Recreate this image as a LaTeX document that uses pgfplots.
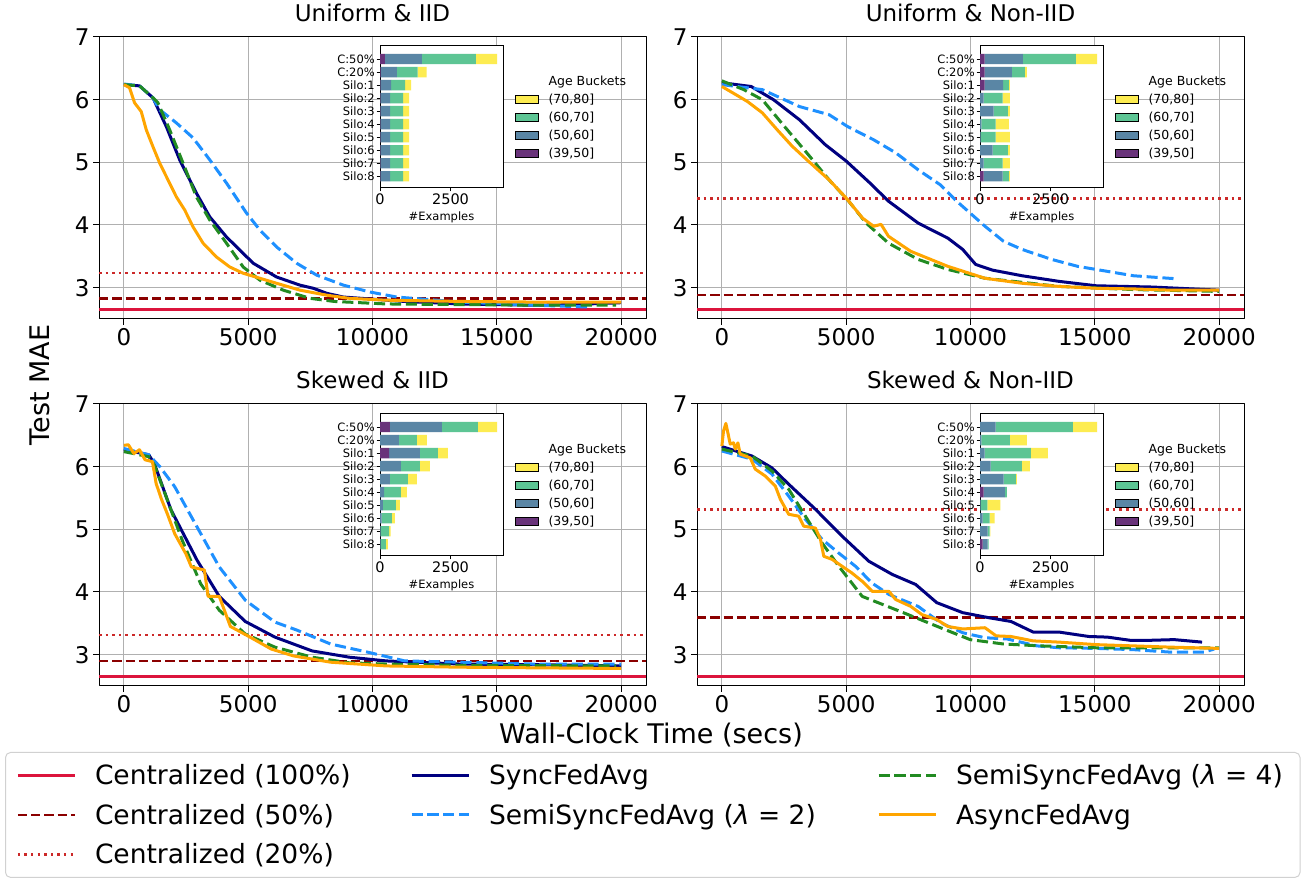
\documentclass[border=0pt]{standalone}
\usepackage{fontspec}
\setmainfont{DejaVu Sans}
\usepackage{pgfplots}
\pgfplotsset{compat=1.18}

\definecolor{c100}{HTML}{DC143C}
\definecolor{c50}{HTML}{8B0000}
\definecolor{c20}{HTML}{CC2929}
\definecolor{cnavy}{HTML}{000080}
\definecolor{cdodger}{HTML}{1E90FF}
\definecolor{cforest}{HTML}{228B22}
\definecolor{corange}{HTML}{FFA500}
\definecolor{gridgray}{HTML}{B0B0B0}
\definecolor{vpur}{HTML}{69337A}
\definecolor{vblu}{HTML}{5A86A5}
\definecolor{vgrn}{HTML}{5DC594}
\definecolor{vyel}{HTML}{FDEC51}

\newcommand\ticksize{\fontsize{23}{27}\selectfont}
\newcommand\titlesize{\fontsize{23}{27}\selectfont}
\newcommand\labsize{\fontsize{27}{31}\selectfont}
\newcommand\legsize{\fontsize{26.5}{30}\selectfont}
\newcommand\insy{\fontsize{11.5}{13}\selectfont}
\newcommand\insx{\fontsize{14.5}{16}\selectfont}
\newcommand\insleg{\fontsize{12.5}{14}\selectfont}

\pgfplotsset{
  cent100/.style={color=c100, line width=2.5pt},
  cent50/.style={color=c50, line width=2.5pt, dash pattern=on 9.25pt off 4pt},
  cent20/.style={color=c20, line width=2.5pt, dash pattern=on 2.5pt off 4.1pt},
  sync/.style={color=cnavy, line width=3pt},
  semi2/.style={color=cdodger, line width=3pt, dash pattern=on 11.1pt off 4.8pt},
  semi4/.style={color=cforest, line width=3pt, dash pattern=on 11.1pt off 4.8pt},
  async/.style={color=corange, line width=3pt},
  mainax/.style={
    scale only axis, width=547pt, height=282pt, anchor=south west,
    xmin=-1000, xmax=21000, ymin=2.5, ymax=7,
    xtick={0,5000,10000,15000,20000}, ytick={3,4,5,6,7},
    scaled x ticks=false,
    /pgf/number format/1000 sep={},
    /pgf/number format/assume math mode=true,
    tick label style={font=\ticksize},
    title style={font=\titlesize, at={(0.5,1)}, anchor=base, yshift=9pt},
    grid=major, grid style={line width=1pt, draw=gridgray},
    axis line style={line width=1pt},
    tick align=outside, xtick pos=left, ytick pos=left,
    major tick length=6pt, every tick/.style={black, line width=1pt},
    line join=round,
  },
  inset/.style={
    scale only axis, width=123pt, height=142pt, anchor=south west,
    xbar stacked, bar width=0.8,
    xmin=0, xmax=4360, ymin=-1, ymax=9.9, y dir=reverse,
    ytick={0,1,2,3,4,5,6,7,8,9},
    yticklabels={C:50\%,C:20\%,Silo:1,Silo:2,Silo:3,Silo:4,Silo:5,Silo:6,Silo:7,Silo:8},
    xtick={0,2500},
    /pgf/number format/1000 sep={},
    /pgf/number format/assume math mode=true,
    yticklabel style={font=\insy, inner sep=1.5pt},
    xticklabel style={font=\insx, inner sep=2pt},
    xlabel={\#Examples}, xlabel style={font=\insy, inner sep=1pt, yshift=-4pt},
    axis background/.style={fill=white},
    axis line style={line width=1pt},
    tick align=outside, xtick pos=left, ytick pos=left,
    major tick length=3.5pt, every tick/.style={black, line width=0.8pt},
    legend style={at={(1.0976,0.79)}, anchor=north west, draw=none, fill=none,
      font=\insleg, row sep=7pt, inner sep=0pt, nodes={inner sep=0pt}},
    legend cell align=left,
    legend image code/.code={\fill[##1] (0pt,-4pt) rectangle (23pt,4pt); \path (0pt,0pt) (33pt,0pt);},
  },
}
\newcommand\ageleg{%
  \addlegendimage{empty legend}\addlegendentry{\rule[-3pt]{0pt}{12.5pt}Age Buckets}
  \addlegendimage{fill=vyel}\addlegendentry{\rule[-3pt]{0pt}{12.5pt}(70,80]}
  \addlegendimage{fill=vgrn}\addlegendentry{\rule[-3pt]{0pt}{12.5pt}(60,70]}
  \addlegendimage{fill=vblu}\addlegendentry{\rule[-3pt]{0pt}{12.5pt}(50,60]}
  \addlegendimage{fill=vpur}\addlegendentry{\rule[-3pt]{0pt}{12.5pt}(39,50]}
}

\begin{document}
\begin{tikzpicture}[x=1pt,y=1pt]

% ---------------- Uniform & IID
\begin{axis}[mainax, at={(99pt,559pt)}, title={Uniform \& IID}]
\addplot[cent100] coordinates {(-1000,2.65)(21000,2.65)};
\addplot[cent50] coordinates {(-1000,2.83)(21000,2.83)};
\addplot[cent20] coordinates {(-1000,3.23)(21000,3.23)};
\addplot[sync] coordinates {(0,6.24)(632,6.22)(1169,6.03)(1707,5.57)(2244,5.04)(2916,4.51)(3454,4.13)(4126,3.81)(5201,3.39)(6142,3.17)(7083,3.04)(7620,2.99)(8158,2.91)(8830,2.85)(11299,2.78)(13537,2.74)(16522,2.72)(18000,2.73)(20000,2.76)};
\addplot[semi2] coordinates {(0,6.25)(632,6.22)(1169,6.03)(1438,5.84)(2110,5.63)(2782,5.39)(3454,5.04)(4126,4.67)(4933,4.19)(5470,3.92)(6142,3.65)(6948,3.39)(7755,3.20)(8830,3.04)(9905,2.93)(10980,2.85)(13537,2.77)(16522,2.72)(18761,2.69)};
\addplot[semi4] coordinates {(0,6.24)(632,6.22)(1169,6.03)(1371,5.95)(1841,5.52)(2379,4.99)(2916,4.45)(3454,4.08)(4126,3.71)(4798,3.33)(5470,3.12)(6411,2.96)(7486,2.83)(8463,2.78)(10552,2.74)(13537,2.73)(16522,2.72)(19800,2.72)};
\addplot[async] coordinates {(0,6.24)(228,6.19)(430,5.95)(699,5.81)(900,5.52)(1169,5.25)(1438,4.99)(1774,4.72)(2110,4.45)(2446,4.24)(2782,3.97)(3185,3.71)(3723,3.49)(4260,3.33)(4798,3.23)(5470,3.15)(6142,3.07)(7083,2.96)(8158,2.88)(9060,2.83)(10552,2.80)(13537,2.78)(16522,2.77)(20000,2.77)};
\end{axis}

% ---------------- Uniform & Non-IID
\begin{axis}[mainax, at={(697pt,559pt)}, title={Uniform \& Non-IID}]
\addplot[cent100] coordinates {(-1000,2.65)(21000,2.65)};
\addplot[cent50] coordinates {(-1000,2.88)(21000,2.88)};
\addplot[cent20] coordinates {(-1000,4.42)(21000,4.42)};
\addplot[sync] coordinates {(0,6.27)(1179,6.21)(2075,6.0)(3119,5.68)(4164,5.28)(5000,5.02)(5955,4.67)(6701,4.38)(7896,4.03)(9090,3.79)(9687,3.61)(10209,3.37)(10881,3.28)(12075,3.19)(13567,3.10)(15060,3.03)(17313,3.01)(20000,2.96)};
\addplot[semi2] coordinates {(0,6.24)(1627,6.16)(3119,5.89)(4313,5.76)(5060,5.57)(6104,5.36)(7000,5.15)(7896,4.88)(8791,4.64)(9388,4.40)(9985,4.19)(10582,3.98)(11328,3.74)(12075,3.61)(13269,3.45)(14313,3.34)(15060,3.29)(16552,3.19)(18343,3.14)};
\addplot[semi4] coordinates {(0,6.30)(881,6.16)(1627,6.0)(2522,5.57)(3418,5.15)(4313,4.72)(5060,4.40)(5806,4.03)(6701,3.71)(7896,3.45)(9090,3.29)(10582,3.15)(13567,3.02)(16552,2.97)(20000,2.94)};
\addplot[async] coordinates {(0,6.21)(433,6.11)(1030,5.97)(1627,5.79)(2224,5.52)(2821,5.26)(3418,5.04)(4313,4.72)(5000,4.43)(5657,4.11)(6104,3.98)(6403,4.01)(6701,3.82)(7597,3.58)(9090,3.34)(10582,3.15)(12075,3.07)(13567,3.02)(15060,2.99)(16552,2.98)(18045,2.96)(20000,2.96)};
\end{axis}

% ---------------- Skewed & IID
\begin{axis}[mainax, at={(99pt,192pt)}, title={Skewed \& IID}]
\addplot[cent100] coordinates {(-1000,2.65)(21000,2.65)};
\addplot[cent50] coordinates {(-1000,2.90)(21000,2.90)};
\addplot[cent20] coordinates {(-1000,3.31)(21000,3.31)};
\addplot[sync] coordinates {(0,6.27)(1000,6.19)(1224,6.05)(1896,5.31)(2940,4.51)(3836,3.93)(4881,3.53)(6075,3.28)(7567,3.06)(9060,2.96)(10552,2.90)(13537,2.85)(16522,2.84)(20000,2.82)};
\addplot[semi2] coordinates {(0,6.29)(1000,6.19)(1448,6.0)(2045,5.68)(2940,5.04)(3836,4.40)(4881,3.87)(6075,3.52)(6970,3.39)(8313,3.17)(9806,3.04)(11299,2.90)(13537,2.88)(16522,2.85)(20000,2.85)};
\addplot[semi4] coordinates {(0,6.24)(1000,6.16)(1224,6.03)(1746,5.47)(2343,4.83)(3090,4.13)(3836,3.71)(4881,3.33)(6075,3.12)(7567,2.96)(9060,2.87)(10552,2.85)(13537,2.83)(19800,2.82)};
\addplot[async] coordinates {(0,6.34)(180,6.35)(403,6.21)(627,6.27)(851,6.11)(1149,6.08)(1299,5.73)(1522,5.47)(1746,5.25)(2045,4.93)(2493,4.61)(2716,4.40)(3239,4.35)(3388,3.93)(3836,3.93)(4284,3.45)(5030,3.29)(5925,3.09)(6821,2.98)(8313,2.88)(10552,2.82)(13537,2.80)(16522,2.79)(20000,2.78)};
\end{axis}

% ---------------- Skewed & Non-IID
\begin{axis}[mainax, at={(697pt,192pt)}, title={Skewed \& Non-IID}]
\addplot[cent100] coordinates {(-1000,2.65)(21000,2.65)};
\addplot[cent50] coordinates {(-1000,3.59)(21000,3.59)};
\addplot[cent20] coordinates {(-1000,5.32)(21000,5.32)};
\addplot[sync] coordinates {(0,6.32)(1210,6.17)(2016,5.98)(2688,5.72)(3763,5.32)(4838,4.89)(5914,4.49)(6854,4.28)(7795,4.12)(8642,3.83)(9687,3.67)(10731,3.59)(11627,3.53)(12522,3.36)(13567,3.36)(14761,3.29)(15507,3.28)(16403,3.23)(17299,3.23)(18194,3.24)(19313,3.20)};
\addplot[semi2] coordinates {(0,6.25)(1210,6.12)(2016,5.88)(2688,5.53)(3360,5.16)(4032,4.84)(4704,4.62)(5376,4.41)(6048,4.14)(6720,3.96)(7896,3.77)(8791,3.51)(9687,3.35)(10582,3.27)(11478,3.25)(12672,3.14)(13567,3.11)(15060,3.10)(16552,3.08)(18045,3.04)(19388,3.04)(19800,3.09)};
\addplot[semi4] coordinates {(0,6.28)(1210,6.17)(2016,5.93)(2688,5.64)(3360,5.21)(4032,4.78)(4704,4.41)(5645,3.93)(7299,3.67)(8791,3.43)(9985,3.24)(11328,3.17)(12821,3.14)(15060,3.11)(20000,3.11)};
\addplot[async] coordinates {(0,6.33)(67,6.57)(161,6.69)(242,6.54)(336,6.36)(470,6.38)(538,6.28)(645,6.38)(739,6.20)(1142,6.14)(1344,5.96)(1747,5.85)(2150,5.69)(2352,5.48)(2688,5.24)(3091,5.21)(3293,5.05)(3763,5.02)(3965,4.84)(4099,4.57)(4435,4.52)(4838,4.41)(5242,4.30)(5645,4.17)(6048,4.01)(6720,4.01)(6989,3.88)(7597,3.77)(8045,3.64)(8642,3.56)(9090,3.45)(9687,3.41)(10582,3.43)(11030,3.30)(11627,3.29)(12522,3.22)(13567,3.20)(15060,3.16)(16552,3.14)(18045,3.12)(20000,3.10)};
\end{axis}

% ---------------- insets
\begin{axis}[inset, at={(380pt,690pt)}]
\ageleg
\addplot[fill=vpur, draw=none, forget plot] coordinates {(177,0)(24,1)(15,2)(15,3)(15,4)(15,5)(15,6)(15,7)(15,8)(15,9)};
\addplot[fill=vblu, draw=none, forget plot] coordinates {(1310,0)(578,1)(380,2)(344,3)(344,4)(344,5)(344,6)(344,7)(344,8)(344,9)};
\addplot[fill=vgrn, draw=none, forget plot] coordinates {(1911,0)(731,1)(496,2)(460,3)(460,4)(460,5)(460,6)(460,7)(460,8)(460,9)};
\addplot[fill=vyel, draw=none, forget plot] coordinates {(756,0)(319,1)(212,2)(213,3)(213,4)(213,5)(213,6)(213,7)(213,8)(213,9)};
\end{axis}

\begin{axis}[inset, at={(980pt,690pt)}]
\ageleg
\addplot[fill=vpur, draw=none, forget plot] coordinates {(166,0)(166,1)(166,2)(0,3)(0,4)(0,5)(0,6)(0,7)(0,8)(130,9)};
\addplot[fill=vblu, draw=none, forget plot] coordinates {(1351,0)(960,1)(652,2)(130,3)(486,4)(47,5)(24,6)(450,7)(130,8)(676,9)};
\addplot[fill=vgrn, draw=none, forget plot] coordinates {(1884,0)(462,1)(201,2)(676,3)(498,4)(510,5)(533,6)(534,7)(676,8)(213,9)};
\addplot[fill=vyel, draw=none, forget plot] coordinates {(746,0)(71,1)(36,2)(249,3)(71,4)(462,5)(498,6)(71,7)(249,8)(36,9)};
\end{axis}

\begin{axis}[inset, at={(380pt,322pt)}]
\ageleg
\addplot[fill=vpur, draw=none, forget plot] coordinates {(354,0)(0,1)(319,2)(0,3)(0,4)(0,5)(0,6)(0,7)(0,8)(0,9)};
\addplot[fill=vblu, draw=none, forget plot] coordinates {(1841,0)(673,1)(1097,2)(743,3)(354,4)(142,5)(106,6)(59,7)(24,8)(24,9)};
\addplot[fill=vgrn, draw=none, forget plot] coordinates {(1274,0)(637,1)(637,2)(673,3)(637,4)(601,5)(460,6)(366,7)(295,8)(188,9)};
\addplot[fill=vyel, draw=none, forget plot] coordinates {(685,0)(354,1)(354,2)(354,3)(319,4)(213,5)(142,6)(106,7)(59,8)(71,9)};
\end{axis}

\begin{axis}[inset, at={(980pt,322pt)}]
\ageleg
\addplot[fill=vpur, draw=none, forget plot] coordinates {(0,0)(0,1)(0,2)(0,3)(0,4)(130,5)(0,6)(0,7)(0,8)(95,9)};
\addplot[fill=vblu, draw=none, forget plot] coordinates {(557,0)(47,1)(166,2)(379,3)(841,4)(747,5)(20,6)(95,7)(273,8)(178,9)};
\addplot[fill=vgrn, draw=none, forget plot] coordinates {(2737,0)(1008,1)(1635,2)(1102,3)(427,4)(71,5)(237,6)(249,7)(71,8)(35,9)};
\addplot[fill=vyel, draw=none, forget plot] coordinates {(853,0)(604,1)(605,2)(285,3)(36,4)(0,5)(462,6)(177,7)(23,8)(0,9)};
\end{axis}

% ---------------- shared legend
\begin{axis}[at={(0pt,0pt)}, anchor=south west, scale only axis, width=1301pt, height=126pt,
  hide axis, xmin=0, xmax=1, ymin=0, ymax=1,
  legend columns=3,
  legend style={at={(0.00384,1)}, anchor=north west, font=\legsize,
    draw=black!18, line width=1pt, rounded corners=5pt, fill=white,
    inner xsep=11pt, inner ysep=12pt, row sep=18pt, column sep=0pt,
    nodes={inner sep=0pt}},
  legend cell align=left,
  legend image code/.code={\draw[#1] (0pt,0pt) -- (57pt,0pt); \path (0pt,-6pt) (76pt,6pt);},
]
\addlegendimage{cent100}\addlegendentry{\makebox[315pt][l]{\rule[-8pt]{0pt}{28pt}Centralized (100\%)}}
\addlegendimage{sync}\addlegendentry{\makebox[388pt][l]{\rule[-8pt]{0pt}{28pt}SyncFedAvg}}
\addlegendimage{semi4}\addlegendentry{\makebox[333pt][l]{\rule[-8pt]{0pt}{28pt}SemiSyncFedAvg (\textit{λ} = 4)}}
\addlegendimage{cent50}\addlegendentry{\makebox[315pt][l]{\rule[-8pt]{0pt}{28pt}Centralized (50\%)}}
\addlegendimage{semi2}\addlegendentry{\makebox[388pt][l]{\rule[-8pt]{0pt}{28pt}SemiSyncFedAvg (\textit{λ} = 2)}}
\addlegendimage{async}\addlegendentry{\makebox[333pt][l]{\rule[-8pt]{0pt}{28pt}AsyncFedAvg}}
\addlegendimage{cent20}\addlegendentry{\makebox[315pt][l]{\rule[-8pt]{0pt}{28pt}Centralized (20\%)}}
\end{axis}

\node[font=\labsize, rotate=90] at (40pt,493pt) {Test MAE};
\node[font=\labsize] at (651pt,143pt) {Wall-Clock Time (secs)};

\pgfresetboundingbox
\path[use as bounding box] (0pt,0pt) rectangle (1301pt,878pt);
\end{tikzpicture}
\end{document}
